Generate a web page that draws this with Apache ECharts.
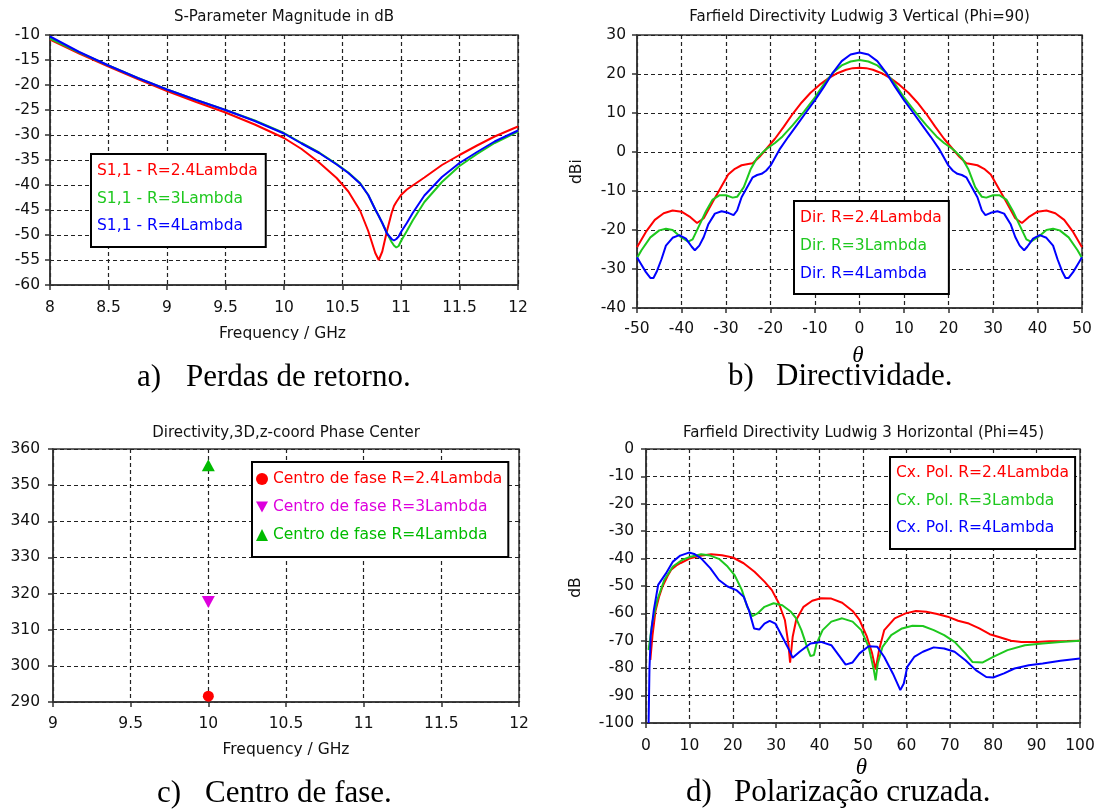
<!DOCTYPE html>
<html>
<head>
<meta charset="utf-8">
<script src="https://cdn.jsdelivr.net/npm/echarts@6/dist/echarts.min.js"></script>
<style>
html,body{margin:0;padding:0;background:#fff;}
#chart{width:1103px;height:811px;}
</style>
</head>
<body>
<div id="chart"></div>
<script>
// ---------- (a) S-Parameter Magnitude in dB ----------
const freqA = [8, 8.25, 8.5, 8.75, 9, 9.25, 9.5, 9.75, 10, 10.15, 10.3, 10.45, 10.55, 10.65, 10.72, 10.78, 10.81, 10.84, 10.88, 10.92, 10.94, 10.96, 10.98, 11, 11.05, 11.1, 11.2, 11.35, 11.5, 11.65, 11.8, 12];
const s11R24 = [-10.9, -13.7, -16.3, -18.8, -21.2, -23.4, -25.5, -27.9, -30.6, -32.8, -35.5, -38.6, -41.3, -45.1, -49.2, -53.6, -55.0, -53.3, -49.2, -45.6, -44.2, -43.4, -42.7, -42.0, -40.9, -40.1, -38.5, -36.0, -34.0, -32.1, -30.3, -28.3];
const s11R3 = [-10.7, -13.5, -16.1, -18.6, -20.9, -23.0, -25.0, -27.1, -29.6, -31.6, -33.5, -35.8, -37.5, -39.6, -42.0, -44.9, -46.2, -47.6, -49.6, -51.4, -52.1, -52.5, -52.2, -51.2, -49.2, -47.1, -43.4, -39.4, -36.2, -33.8, -31.6, -29.3];
const s11R4 = [-10.3, -13.4, -16.1, -18.6, -20.9, -23.0, -25.0, -27.2, -29.7, -31.7, -33.6, -35.9, -37.6, -39.7, -42.0, -44.9, -46.2, -47.6, -49.7, -50.8, -51.1, -50.8, -50.3, -49.4, -47.6, -45.6, -42.1, -38.4, -35.6, -33.4, -31.3, -29.1];
const namesA = ['S1,1 - R=2.4Lambda', 'S1,1 - R=3Lambda', 'S1,1 - R=4Lambda'];

// ---------- (b) Farfield Directivity Ludwig 3 Vertical (Phi=90) ----------
const dirR24 = [[-50,-24.4],[-48,-20.5],[-46,-17.4],[-44,-15.7],[-42,-15.0],[-40,-15.3],[-38,-16.7],[-36.5,-18.2],[-35,-17.0],[-33,-12.8],[-31,-8.8],[-29.5,-5.8],[-28,-4.3],[-26.5,-3.4],[-25,-3.1],[-24,-2.9],[-22.5,-1.3],[-21,0.7],[-19,3.4],[-17,6.5],[-15,9.8],[-13,12.7],[-11,15.2],[-9,17.2],[-7,18.9],[-5,20.2],[-3,21.1],[-1.5,21.5],[0,21.6],
  [1.5,21.5],[3,21.1],[5,20.2],[7,18.9],[9,17.2],[11,15.2],[13,12.7],[15,9.8],[17,6.5],[19,3.4],[21,0.7],[22.5,-1.3],[24,-2.9],[25,-3.1],[26.5,-3.4],[28,-4.3],[29.5,-5.8],[31,-8.8],[33,-12.8],[35,-17.0],[36.5,-18.2],[38,-16.7],[40,-15.3],[42,-15.0],[44,-15.7],[46,-17.4],[48,-20.5],[50,-24.4]];
const dirR3 = [[-50,-27.2],[-49,-25.2],[-47,-21.9],[-45,-20.1],[-43.5,-19.7],[-42,-20.0],[-40.5,-21.5],[-38.5,-23.0],[-37.5,-22.4],[-36,-18.8],[-34.5,-15.2],[-33,-12.2],[-31.5,-11.1],[-30,-11.1],[-28.5,-11.7],[-27.5,-11.5],[-26,-9.0],[-24.5,-4.5],[-23,-1.5],[-21,0.7],[-19,2.3],[-17.3,4.0],[-15,6.9],[-12.5,10.3],[-10,14.0],[-8,17.4],[-6,20.3],[-4,22.2],[-2,23.2],[0,23.6],
  [2,23.2],[4,22.2],[6,20.3],[8,17.4],[10,14.0],[12.5,10.3],[15,6.9],[17.3,4.0],[19,2.3],[21,0.7],[23,-1.5],[24.5,-4.5],[26,-9.0],[27.5,-11.5],[28.5,-11.7],[30,-11.1],[31.5,-11.1],[33,-12.2],[34.5,-15.2],[36,-18.8],[37.5,-22.4],[38.5,-23.0],[40.5,-21.5],[42,-20.0],[43.5,-19.7],[45,-20.1],[47,-21.9],[49,-25.2],[50,-27.2]];
const dirR4 = [[-50,-27.0],[-49,-28.9],[-48,-30.8],[-47,-32.3],[-46.3,-32.3],[-45.5,-30.5],[-44.5,-27.5],[-43.5,-24.0],[-42,-22.0],[-40.5,-21.3],[-39,-22.2],[-37.7,-24.3],[-37,-25.2],[-36,-24.0],[-35,-21.8],[-34,-18.6],[-32.5,-15.8],[-31,-15.2],[-29.5,-15.6],[-28.3,-16.2],[-27.5,-15.0],[-26.5,-11.6],[-25,-8.5],[-24,-6.5],[-23,-5.9],[-22,-5.6],[-21,-4.8],[-20,-3.5],[-18,0.6],[-16,3.9],[-14,7.0],[-12,10.2],[-10,13.3],[-8,16.7],[-6,20.3],[-4,23.3],[-2,25.0],[0,25.5],
  [2,25.0],[4,23.3],[6,20.3],[8,16.7],[10,13.3],[12,10.2],[14,7.0],[16,3.9],[18,0.6],[20,-3.5],[21,-4.8],[22,-5.6],[23,-5.9],[24,-6.5],[25,-8.5],[26.5,-11.6],[27.5,-15.0],[28.3,-16.2],[29.5,-15.6],[31,-15.2],[32.5,-15.8],[34,-18.6],[35,-21.8],[36,-24.0],[37,-25.2],[37.7,-24.3],[39,-22.2],[40.5,-21.3],[42,-22.0],[43.5,-24.0],[44.5,-27.5],[45.5,-30.5],[46.3,-32.3],[47,-32.3],[48,-30.8],[49,-28.9],[50,-27.0]];
const namesB = ['Dir. R=2.4Lambda', 'Dir. R=3Lambda', 'Dir. R=4Lambda'];

// ---------- (c) Directivity,3D,z-coord Phase Center ----------
const pcFreq = [10];
const pcR24 = [291.6];
const pcR3 = [317.7];
const pcR4 = [355.5];
const namesC = ['Centro de fase R=2.4Lambda', 'Centro de fase R=3Lambda', 'Centro de fase R=4Lambda'];

// ---------- (d) Farfield Directivity Ludwig 3 Horizontal (Phi=45) ----------
const xpR24 = [[1.0,-77],[1.5,-68],[2.2,-59],[3,-54],[3.8,-50.2],[5,-46.3],[5.8,-44.1],[7,-42.5],[8,-41.6],[10,-40.0],[12.5,-39.0],[15,-38.4],[17.5,-38.8],[20,-39.6],[22.5,-41.7],[25,-44.8],[27.3,-48.4],[29,-51.5],[30.6,-56.3],[32,-62.4],[32.8,-71],[33.2,-78],[33.8,-68.5],[34.6,-62.4],[36.3,-57.6],[38.3,-55.4],[40.3,-54.5],[42.7,-54.6],[45.2,-56.1],[47.6,-59.1],[49.2,-62.4],[50.9,-68.5],[52.1,-74.6],[52.9,-80.5],[53.7,-73.4],[54.9,-66.1],[57.3,-61.8],[59.8,-60.0],[62.2,-59.1],[64.6,-59.4],[67.1,-60.2],[69.5,-61.2],[71.9,-62.7],[74.4,-63.7],[76.8,-65.5],[79.2,-67.6],[81.7,-68.8],[84.1,-70.0],[86.5,-70.4],[90,-70.4],[93,-70.2],[97,-70.1],[100,-70.0]];
const xpR3 = [[0.6,-73.4],[1.4,-63.7],[2.6,-55.1],[4.2,-47.8],[6.2,-42.9],[8.3,-40.5],[10.3,-39.3],[12.7,-38.4],[14.8,-38.9],[16.8,-40.1],[18.8,-42.9],[20.4,-46.0],[22.1,-51.5],[23.3,-57.6],[24.5,-61.0],[25.7,-60.0],[27.3,-57.6],[29.4,-56.3],[31.4,-57.0],[33.4,-59.4],[34.6,-61.8],[35.8,-66.1],[37.1,-72.2],[37.9,-75.6],[38.7,-75.2],[39.3,-71.0],[40.7,-66.1],[42.7,-63.0],[45.2,-61.8],[47.6,-63.0],[49.6,-66.1],[51.3,-72.2],[52.5,-80.7],[52.9,-84.4],[53.4,-78.3],[54.5,-72.2],[56.5,-67.9],[59,-65.5],[61.4,-64.5],[63.8,-64.6],[66.3,-66.1],[68.7,-67.9],[71.1,-70.4],[73.6,-74.6],[75.2,-77.7],[77.6,-77.9],[80,-75.9],[83.3,-73.4],[87.3,-71.6],[91.4,-71.0],[95.5,-70.4],[100,-70.0]];
const xpR4 = [[0.6,-100],[0.8,-80],[1.1,-68],[1.8,-58.8],[2.8,-49.6],[4.6,-45.4],[6.2,-41.1],[7.9,-38.9],[9.9,-37.8],[11.1,-38.3],[12.7,-39.9],[14.8,-43.5],[16.8,-47.8],[18.8,-50.2],[20.8,-51.5],[22.5,-53.9],[23.7,-58.8],[24.9,-65.5],[26.1,-65.9],[27.3,-63.7],[28.5,-62.7],[29.8,-63.7],[31.4,-68.5],[33,-73.4],[33.8,-76.2],[35.4,-74],[37.9,-71],[40.3,-70.4],[42.7,-71.6],[44.4,-75.2],[46,-78.7],[47.6,-77.9],[49.2,-74.6],[51.3,-72],[53.3,-72.2],[54.9,-75.9],[56.9,-82],[58.6,-88],[59.4,-85.6],[60.2,-79.5],[61.8,-75.9],[63.8,-74],[66.3,-72.4],[68.7,-72.8],[71.1,-74],[73.6,-77.1],[76,-80.7],[78.4,-83.2],[80,-83.4],[82.5,-81.9],[84.9,-80.1],[88.2,-78.9],[91.4,-78.3],[95.5,-77.3],[100,-76.5]];
const namesD = ['Cx. Pol. R=2.4Lambda', 'Cx. Pol. R=3Lambda', 'Cx. Pol. R=4Lambda'];

// axis ranges: [min, max, interval]
const xRangeA = [8, 12, 0.5], yRangeA = [-60, -10, 5];
const xRangeB = [-50, 50, 10], yRangeB = [-40, 30, 10];
const xRangeC = [9, 12, 0.5], yRangeC = [290, 360, 10];
const xRangeD = [0, 100, 10], yRangeD = [-100, 0, 10];

const titles = ['S-Parameter Magnitude in dB', 'Farfield Directivity Ludwig 3 Vertical (Phi=90)', 'Directivity,3D,z-coord Phase Center', 'Farfield Directivity Ludwig 3 Horizontal (Phi=45)'];
const captionLetters = ['a)', 'b)', 'c)', 'd)'];
const captionTexts = ['Perdas de retorno.', 'Directividade.', 'Centro de fase.', 'Polarização cruzada.'];

// ---------- styling ----------
const RED = '#ff0000', GREEN = '#1ec81e', BLUE = '#0000ff', MAGENTA = '#dd00dd', DGREEN = '#00bb00';
const SANS = 'DejaVu Sans';
const FS = 15.5;

function valAxis(range, gridIndex, margin) {
  return {
    type: 'value', gridIndex: gridIndex,
    min: range[0], max: range[1], interval: range[2],
    axisLine: { show: true, onZero: false, lineStyle: { color: '#333', width: 1.5 } },
    axisTick: { show: true, inside: false, length: 5, lineStyle: { color: '#333', width: 1.5 } },
    splitLine: { show: true, lineStyle: { type: [4, 3], color: '#222', width: 1.2 } },
    axisLabel: { color: '#111', fontFamily: SANS, fontSize: FS, margin: margin, showMinLabel: true, showMaxLabel: true },
    splitNumber: Math.round((range[1] - range[0]) / range[2])
  };
}

function lineSeries(name, data, color, xi) {
  return { name: name, type: 'line', xAxisIndex: xi, yAxisIndex: xi, data: data, showSymbol: false, symbol: 'none',
    lineStyle: { color: color, width: 2 }, itemStyle: { color: color }, animation: false, silent: true };
}

function legendBox(names, colors, left, top, padding, gap, icons, iw, ih) {
  return {
    orient: 'vertical', left: left, top: top, padding: padding, itemGap: gap,
    itemWidth: iw, itemHeight: ih, selectedMode: false,
    borderColor: '#000', borderWidth: 2, backgroundColor: '#fff', borderRadius: 0,
    textStyle: { fontFamily: SANS, fontSize: FS },
    data: names.map((n, i) => ({ name: n, icon: icons ? icons[i] : 'none', textStyle: { color: colors[i] } }))
  };
}

function txt(text, x, y, opts) {
  opts = opts || {};
  return {
    type: 'text', x: x, y: y, rotation: opts.rotation || 0, z: 100, silent: true,
    style: {
      text: text, fill: opts.fill || '#111',
      font: opts.font || (FS + 'px "' + SANS + '"'),
      textAlign: opts.align || 'center', textVerticalAlign: 'middle',
      align: opts.align || 'center', verticalAlign: 'middle'
    }
  };
}

const DOWN_TRI = 'path://M0,0L10,0L5,9Z';

const option = {
  animation: false,
  backgroundColor: '#fff',
  grid: [
    { left: 50, top: 35, width: 468, height: 250, show: true, borderColor: '#333', borderWidth: 1.5, backgroundColor: '#fff' },
    { left: 637, top: 35, width: 445, height: 273, show: true, borderColor: '#333', borderWidth: 1.5, backgroundColor: '#fff' },
    { left: 53, top: 449, width: 466, height: 253, show: true, borderColor: '#333', borderWidth: 1.5, backgroundColor: '#fff' },
    { left: 646, top: 449, width: 434, height: 274, show: true, borderColor: '#333', borderWidth: 1.5, backgroundColor: '#fff' }
  ],
  xAxis: [valAxis(xRangeA, 0, 15), valAxis(xRangeB, 1, 13), valAxis(xRangeC, 2, 14), valAxis(xRangeD, 3, 15)],
  yAxis: [valAxis(yRangeA, 0, 10), valAxis(yRangeB, 1, 11), valAxis(yRangeC, 2, 13), valAxis(yRangeD, 3, 12)],
  legend: [
    legendBox(namesA, [RED, GREEN, BLUE], 91, 154, [9, 8, 13, 1], 11.5, null, 0, 14),
    legendBox(namesB, [RED, GREEN, BLUE], 794, 201, [9, 7, 12, 1], 12, null, 0, 14),
    legendBox(namesC, [RED, MAGENTA, DGREEN], 252, 462, [9, 6, 14, 4], 12, ['circle', DOWN_TRI, 'triangle'], 12, 12),
    legendBox(namesD, [RED, GREEN, BLUE], 890, 457, [8, 6, 13, 1], 11.5, null, 0, 14)
  ],
  series: [
    lineSeries(namesA[0], freqA.map((f, i) => [f, s11R24[i]]), RED, 0),
    lineSeries(namesA[1], freqA.map((f, i) => [f, s11R3[i]]), GREEN, 0),
    lineSeries(namesA[2], freqA.map((f, i) => [f, s11R4[i]]), BLUE, 0),
    lineSeries(namesB[0], dirR24, RED, 1),
    lineSeries(namesB[1], dirR3, GREEN, 1),
    lineSeries(namesB[2], dirR4, BLUE, 1),
    { name: namesC[0], type: 'scatter', xAxisIndex: 2, yAxisIndex: 2, data: pcFreq.map((f, i) => [f, pcR24[i]]), symbol: 'circle', symbolSize: 11, itemStyle: { color: RED, opacity: 1 }, silent: true },
    { name: namesC[1], type: 'scatter', xAxisIndex: 2, yAxisIndex: 2, data: pcFreq.map((f, i) => [f, pcR3[i]]), symbol: DOWN_TRI, symbolSize: [13, 12], itemStyle: { color: MAGENTA, opacity: 1 }, silent: true },
    { name: namesC[2], type: 'scatter', xAxisIndex: 2, yAxisIndex: 2, data: pcFreq.map((f, i) => [f, pcR4[i]]), symbol: 'triangle', symbolSize: [13, 12], itemStyle: { color: DGREEN, opacity: 1 }, silent: true },
    lineSeries(namesD[0], xpR24, RED, 3),
    lineSeries(namesD[1], xpR3, GREEN, 3),
    lineSeries(namesD[2], xpR4, BLUE, 3)
  ],
  graphic: [
    txt(titles[0], 284, 17.5, { font: '15px "' + SANS + '"' }),
    txt(titles[1], 859.5, 17.5, { font: '15px "' + SANS + '"' }),
    txt(titles[2], 286, 433, { font: '15px "' + SANS + '"' }),
    txt(titles[3], 863.5, 433, { font: '15px "' + SANS + '"' }),
    txt('Frequency / GHz', 282.5, 333.8),
    txt('Frequency / GHz', 286, 749.8),
    { type: 'rect', z: 101, silent: true, shape: { x: 200, y: 340, width: 170, height: 14 }, style: { fill: '#fff' } },
    { type: 'rect', z: 101, silent: true, shape: { x: 200, y: 756.5, width: 170, height: 12 }, style: { fill: '#fff' } },
    txt('dBi', 576.5, 171.7, { rotation: Math.PI / 2 }),
    txt('dB', 575.5, 587.5, { rotation: Math.PI / 2 }),
    txt('θ', 858, 356, { font: 'italic 23px "Liberation Serif"', fill: '#000' }),
    txt('θ', 861.5, 767.5, { font: 'italic 23px "Liberation Serif"', fill: '#000' }),
    txt(captionLetters[0], 137, 377.5, { font: '31px "Liberation Serif"', fill: '#000', align: 'left' }),
    txt(captionTexts[0], 186, 377.5, { font: '31px "Liberation Serif"', fill: '#000', align: 'left' }),
    txt(captionLetters[1], 728, 377.2, { font: '31px "Liberation Serif"', fill: '#000', align: 'left' }),
    txt(captionTexts[1], 776, 377.2, { font: '31px "Liberation Serif"', fill: '#000', align: 'left' }),
    txt(captionLetters[2], 157, 793.5, { font: '31px "Liberation Serif"', fill: '#000', align: 'left' }),
    txt(captionTexts[2], 205, 793.5, { font: '31px "Liberation Serif"', fill: '#000', align: 'left' }),
    txt(captionLetters[3], 686, 792.5, { font: '31px "Liberation Serif"', fill: '#000', align: 'left' }),
    txt(captionTexts[3], 734, 792.5, { font: '31px "Liberation Serif"', fill: '#000', align: 'left' })
  ]
};

const chart = echarts.init(document.getElementById('chart'), null, { renderer: 'canvas' });
chart.setOption(option);
</script>
</body>
</html>
